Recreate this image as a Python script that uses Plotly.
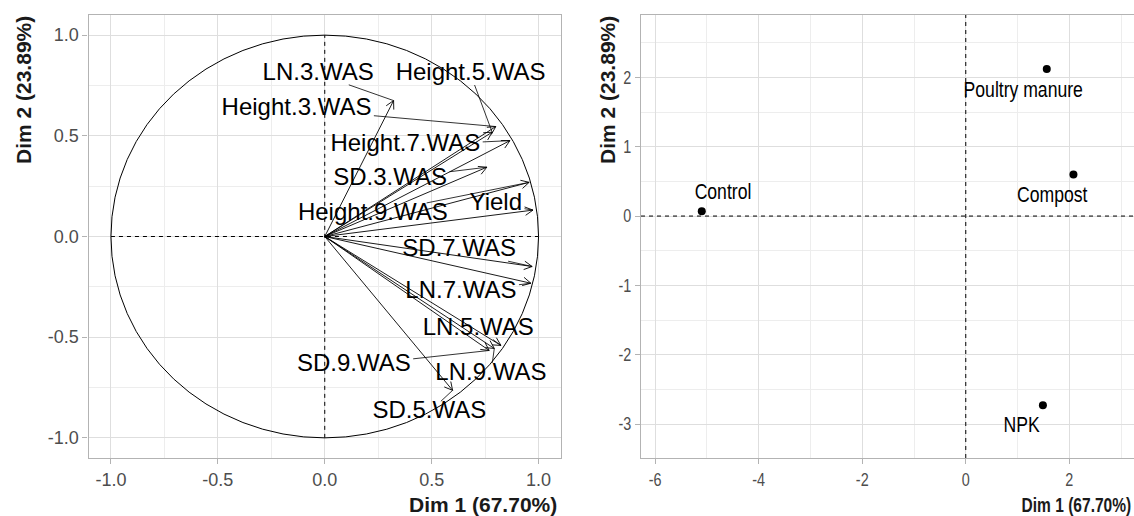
import plotly.graph_objects as go
import math

# ---------------- data ----------------
var_names = ["LN.3.WAS", "Height.3.WAS", "Height.5.WAS", "Height.7.WAS", "SD.3.WAS",
             "Height.9.WAS", "Yield", "SD.7.WAS", "LN.7.WAS", "LN.5.WAS",
             "LN.9.WAS", "SD.9.WAS", "SD.5.WAS"]
var_dim1 = [0.322, 0.800, 0.783, 0.866, 0.758, 0.956, 0.974, 0.970, 0.964, 0.824, 0.793, 0.769, 0.598]
var_dim2 = [0.675, 0.546, 0.518, 0.476, 0.344, 0.269, 0.131, -0.149, -0.232, -0.541, -0.556, -0.566, -0.764]
var_label_x = [-0.031, -0.132, 0.682, 0.377, 0.306, 0.225, 0.800, 0.629, 0.637, 0.718, 0.777, 0.136, 0.489]
var_label_y = [0.807, 0.634, 0.806, 0.452, 0.286, 0.113, 0.162, -0.069, -0.276, -0.458, -0.681, -0.640, -0.872]

ind_names = ["Control", "Poultry manure", "Compost", "NPK"]
ind_dim1 = [-5.10, 1.565, 2.08, 1.49]
ind_dim2 = [0.07, 2.12, 0.60, -2.73]
ind_label_x = [-4.69, 1.11, 1.67, 1.08]
ind_label_y = [0.32, 1.79, 0.28, -3.04]

var_tick_vals = [-1.0, -0.5, 0.0, 0.5, 1.0]
var_tick_text = ["-1.0", "-0.5", "0.0", "0.5", "1.0"]
ind_x_tick_vals = [-6, -4, -2, 0, 2]
ind_x_tick_text = ["-6", "-4", "-2", "0", "2"]
ind_y_tick_vals = [-3, -2, -1, 0, 1, 2]
ind_y_tick_text = ["-3", "-2", "-1", "0", "1", "2"]

x_title = "Dim 1 (67.70%)"
y_title = "Dim 2 (23.89%)"

# ---------------- layout geometry ----------------
W, H = 1134, 516
L_X0, L_X1 = 88.5, 561.0
P_Y0, P_Y1 = 15.0, 458.0
R_X0 = 641.0
L_XR = [-1.105, 1.105]
L_YR = [-1.1, 1.1]
R_XR = [-6.274, 3.25]
R_YR = [-3.49, 2.90]

SX = (L_X1 - L_X0) / (L_XR[1] - L_XR[0])   # px per unit (left panel)
SY = (P_Y1 - P_Y0) / (L_YR[1] - L_YR[0])

GRID_MAJ = "#DEDEDE"
GRID_MIN = "#EDEDED"
BORDER = "#B3B3B3"
TICKC = "#4D4D4D"
FONT = "Liberation Sans, Arial, sans-serif"

fig = go.Figure()

# ---------------- arrows (variables) ----------------
ax_, ay_ = [], []
head_len = 9.0
head_ang = math.radians(28)
for x, y in zip(var_dim1, var_dim2):
    ax_ += [0, x, None]
    ay_ += [0, y, None]
    ang = math.atan2(y * SY, x * SX)
    for s in (1, -1):
        a = ang + math.pi + s * head_ang
        hx = x + head_len * math.cos(a) / SX
        hy = y + head_len * math.sin(a) / SY
        ax_ += [x, hx, None]
        ay_ += [y, hy, None]
fig.add_trace(go.Scatter(x=ax_, y=ay_, mode="lines", xaxis="x", yaxis="y",
                         line=dict(color="black", width=0.9), hoverinfo="skip"))

# ---------------- label segments (repel-like) ----------------
cw = {"H": .722, "e": .556, "i": .222, "g": .556, "h": .556, "t": .278, ".": .278,
      "W": .944, "A": .667, "S": .667, "L": .556, "N": .722, "D": .722, "Y": .667,
      "l": .222, "d": .556}
FS = 24
sx_, sy_ = [], []
for name, tx, ty, lx, ly in zip(var_names, var_dim1, var_dim2, var_label_x, var_label_y):
    wpx = sum(cw.get(c, .556) for c in name) * FS
    hw, hh = wpx / 2 + 2, FS * 0.45
    dx = (tx - lx) * SX
    dy = (ty - ly) * SY
    if abs(dx) <= hw and abs(dy) <= hh:
        continue
    t = min(hw / abs(dx) if dx else 1e9, hh / abs(dy) if dy else 1e9)
    ex, ey = dx * t, dy * t
    gap = math.hypot(dx - ex, dy - ey)
    if gap < 8:
        continue
    sx_ += [lx + ex / SX, tx, None]
    sy_ += [ly + ey / SY, ty, None]
fig.add_trace(go.Scatter(x=sx_, y=sy_, mode="lines", xaxis="x", yaxis="y",
                         line=dict(color="black", width=0.8), hoverinfo="skip"))

fig.add_trace(go.Scatter(x=var_label_x, y=var_label_y, text=var_names, mode="text",
                         xaxis="x", yaxis="y", textposition="middle center",
                         textfont=dict(family=FONT, size=FS, color="black"),
                         hoverinfo="skip"))

# ---------------- individuals ----------------
fig.add_trace(go.Scatter(x=ind_dim1, y=ind_dim2, mode="markers", xaxis="x2", yaxis="y2",
                         marker=dict(color="black", size=8), hoverinfo="skip"))
fig.add_trace(go.Scatter(x=ind_label_x, y=ind_label_y, text=ind_names, mode="text",
                         xaxis="x2", yaxis="y2", textposition="middle center",
                         textfont=dict(family=FONT, size=22, color="black"),
                         hoverinfo="skip"))

# ---------------- shapes ----------------
DASH = "4px,4px"
shapes = [
    dict(type="circle", xref="x", yref="y", x0=-1, y0=-1, x1=1, y1=1,
         line=dict(color="black", width=1)),
    dict(type="line", xref="x", yref="y", x0=-1, x1=1, y0=0, y1=0,
         line=dict(color="black", width=1, dash=DASH)),
    dict(type="line", xref="x", yref="y", x0=0, x1=0, y0=-1, y1=1,
         line=dict(color="black", width=1, dash=DASH)),
    dict(type="line", xref="x2 domain", yref="y2", x0=0, x1=1, y0=0, y1=0,
         line=dict(color="black", width=1, dash=DASH)),
    dict(type="line", xref="x2", yref="y2 domain", x0=0, x1=0, y0=0, y1=1,
         line=dict(color="black", width=1, dash=DASH)),
]

common = dict(showgrid=True, gridcolor=GRID_MAJ, gridwidth=1, zeroline=False,
              showline=True, linecolor=BORDER, linewidth=1.3, automargin=False,
              ticks="outside", ticklen=5, tickcolor=BORDER, tickwidth=1,
              tickfont=dict(family=FONT, size=18, color=TICKC))

fig.update_layout(
    width=W, height=H, margin=dict(l=0, r=0, t=0, b=0, autoexpand=False),
    paper_bgcolor="white", plot_bgcolor="white", showlegend=False,
    shapes=shapes,
    xaxis=dict(domain=[L_X0 / W, L_X1 / W], range=L_XR, anchor="y",
               tickmode="array", tickvals=var_tick_vals, ticktext=var_tick_text, mirror=True,
               minor=dict(tick0=0, dtick=0.25, showgrid=True, gridcolor=GRID_MIN, ticks=""),
               **common),
    yaxis=dict(domain=[1 - P_Y1 / H, 1 - P_Y0 / H], range=L_YR, anchor="x",
               tickmode="array", tickvals=var_tick_vals, ticktext=var_tick_text, mirror=True,
               minor=dict(tick0=0, dtick=0.25, showgrid=True, gridcolor=GRID_MIN, ticks=""),
               **common),
    xaxis2=dict(domain=[R_X0 / W, 1.0], range=R_XR, anchor="y2",
                tickmode="array", tickvals=ind_x_tick_vals, ticktext=ind_x_tick_text, mirror=True,
                minor=dict(tick0=0, dtick=1, showgrid=True, gridcolor=GRID_MIN, ticks=""),
                **common),
    yaxis2=dict(domain=[1 - P_Y1 / H, 1 - P_Y0 / H], range=R_YR, anchor="x2",
                tickmode="array", tickvals=ind_y_tick_vals, ticktext=ind_y_tick_text, mirror=False,
                minor=dict(tick0=0.5, dtick=1, showgrid=True, gridcolor=GRID_MIN, ticks=""),
                **common),
    annotations=[
        dict(text="<b>" + x_title + "</b>", xref="paper", yref="paper",
             x=559 / W, y=1 - 504 / H, xanchor="right", yanchor="middle", showarrow=False,
             font=dict(family=FONT, size=21, color="#1A1A1A")),
        dict(text="<b>" + y_title + "</b>", xref="paper", yref="paper", textangle=-90,
             x=23 / W, y=1 - 14 / H, xanchor="center", yanchor="top", showarrow=False,
             font=dict(family=FONT, size=21, color="#1A1A1A")),
        dict(text="<b>" + x_title + "</b>", xref="paper", yref="paper",
             x=1133 / W, y=1 - 504 / H, xanchor="right", yanchor="middle", showarrow=False,
             font=dict(family=FONT, size=21, color="#1A1A1A")),
        dict(text="<b>" + y_title + "</b>", xref="paper", yref="paper", textangle=-90,
             x=607 / W, y=1 - 14 / H, xanchor="center", yanchor="top", showarrow=False,
             font=dict(family=FONT, size=21, color="#1A1A1A")),
    ],
)

# remove the page margin and render the right-hand panel's horizontal texts
# horizontally condensed, as in the reference picture
post = """
document.body.style.margin = '0';
document.body.style.padding = '0';
var gd = document.getElementById('{plot_id}');
function squeeze(el, f, mode) {
  var bb = el.getBBox();
  var cx = bb.x + bb.width / 2;
  var anc = el.getAttribute('text-anchor');
  if (mode === 'right' || anc === 'end') { cx = bb.x + bb.width; }
  else if (anc === 'start') { cx = bb.x; }
  var t = el.getAttribute('transform') || '';
  el.setAttribute('transform', t + ' translate(' + cx + ',0) scale(' + f + ',1) translate(' + (-cx) + ',0)');
}
gd.querySelectorAll('.subplot.x2y2 text').forEach(function (el) { squeeze(el, 0.8, ''); });
gd.querySelectorAll('.annotation[data-index="2"] text').forEach(function (el) { squeeze(el, 0.74, 'right'); });
"""

fig.write_html("out.html", post_script=post, config={"displayModeBar": False})
